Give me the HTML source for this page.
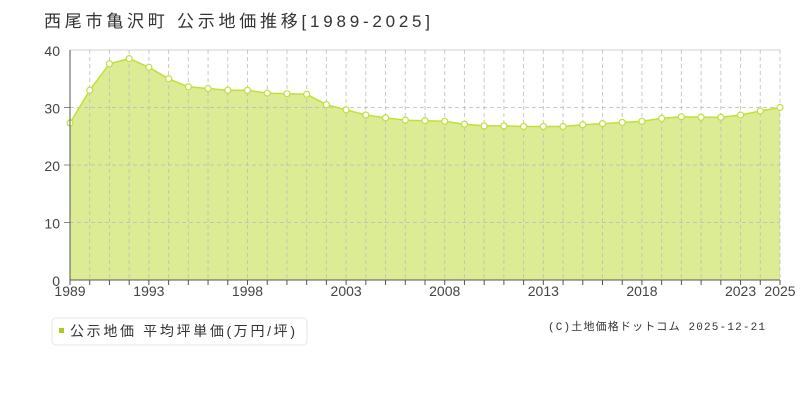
<!DOCTYPE html>
<html><head><meta charset="utf-8"><style>
body{margin:0;background:#fff;width:800px;height:400px;overflow:hidden;font-family:"Liberation Sans","Noto Sans CJK JP",sans-serif}
</style></head><body>
<svg id="s" width="800" height="400" xmlns="http://www.w3.org/2000/svg" style="position:absolute;left:0;top:0">
<text x="44" y="27" font-size="17" fill="#333" textLength="386" lengthAdjust="spacing" font-family="Liberation Sans,Noto Sans CJK JP,sans-serif">西尾市亀沢町 公示地価推移[1989-2025]</text>
<g id="g"></g>
<rect x="52" y="318" width="255" height="27" rx="4" fill="#fff" stroke="#e6e6e6"/>
<rect x="59" y="328" width="5" height="5" fill="#aacc22"/>
<text x="70" y="336" font-size="14" fill="#333" textLength="225" lengthAdjust="spacing" font-family="Liberation Sans,Noto Sans CJK JP,sans-serif">公示地価 平均坪単価(万円/坪)</text>
<text x="548" y="330" font-size="11" fill="#333" textLength="217" lengthAdjust="spacing" font-family="Liberation Mono,Noto Sans CJK JP,monospace">(C)土地価格ドットコム 2025-12-21</text>
</svg>
<script>
var d=[27.3,33,37.6,38.5,37,35,33.6,33.3,33,33,32.5,32.4,32.3,30.5,29.6,28.7,28.2,27.8,27.7,27.6,27.1,26.8,26.8,26.7,26.7,26.7,27,27.2,27.4,27.6,28.1,28.4,28.3,28.3,28.7,29.4,30];
var X=function(i){return 70+i*710/36},Y=function(v){return 280-v*5.75};
var h='';
h+='<line x1="70" y1="50" x2="780" y2="50" stroke="#e0e0e0" stroke-width="1.5"/>';
var pts=d.map(function(v,i){return X(i).toFixed(1)+','+Y(v).toFixed(1)}).join(' ');
h+='<polygon points="70,280 '+pts+' 780,280" fill="#dcec94"/>';
for(var i=1;i<=36;i++){h+='<line x1="'+X(i)+'" y1="50" x2="'+X(i)+'" y2="280" stroke="#bbb" stroke-opacity="0.8" stroke-dasharray="4,3"/>';}
[10,20,30].forEach(function(v){h+='<line x1="70" y1="'+Y(v)+'" x2="780" y2="'+Y(v)+'" stroke="#bbb" stroke-opacity="0.8" stroke-dasharray="4,3"/>';h+='<line x1="64" y1="'+Y(v)+'" x2="70" y2="'+Y(v)+'" stroke="#888"/>'});
h+='<polyline points="'+pts+'" fill="none" stroke="#bfe03a" stroke-width="1.5"/>';
d.forEach(function(v,i){h+='<circle cx="'+X(i)+'" cy="'+Y(v)+'" r="3" fill="#fff" stroke="#bfe03a" stroke-width="1.2"/>'});
h+='<line x1="70" y1="50" x2="70" y2="280" stroke="#555"/><line x1="70" y1="280" x2="780" y2="280" stroke="#555"/>';
for(var i=0;i<=36;i++){h+='<line x1="'+X(i)+'" y1="280" x2="'+X(i)+'" y2="285" stroke="#555"/>';}
[0,10,20,30,40].forEach(function(v){h+='<text x="60" y="'+(Y(v)+6)+'" font-size="14" fill="#444" text-anchor="end">'+v+'</text>'});
[[0,1989],[4,1993],[9,1998],[14,2003],[19,2008],[24,2013],[29,2018],[34,2023],[36,2025]].forEach(function(a){h+='<text x="'+X(a[0])+'" y="296" font-size="14" fill="#444" text-anchor="middle">'+a[1]+'</text>'});
document.getElementById('g').innerHTML=h;
</script>
</body></html>
